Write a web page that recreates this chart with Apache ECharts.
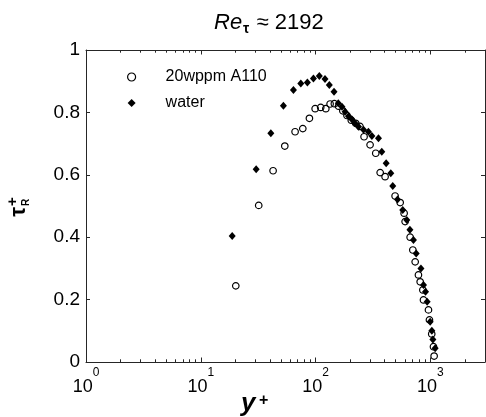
<!DOCTYPE html>
<html>
<head>
<meta charset="utf-8">
<script src="https://cdn.jsdelivr.net/npm/echarts@6/dist/echarts.min.js"></script>
<style>
  html, body { margin: 0; padding: 0; background: #fff; }
  #chart { width: 486px; height: 417px; }
</style>
</head>
<body>
<div id="chart"></div>
<script>
// 20wppm A110 (open circles)
var a110Yplus = [20.2, 32, 42.7, 54, 66.4, 77.5, 88.5, 99.3, 111, 123, 134, 146, 159, 173, 188,
  205, 224, 244, 265, 299, 335, 366, 404, 494, 547, 592, 604, 668, 705, 739, 789, 817, 862, 873,
  965, 984, 1030, 1067, 1081];
var a110Tau = [0.244, 0.502, 0.613, 0.692, 0.738, 0.748, 0.781, 0.812, 0.816, 0.812, 0.827, 0.828,
  0.820, 0.805, 0.790, 0.775, 0.765, 0.755, 0.722, 0.696, 0.669, 0.607, 0.594, 0.532, 0.511, 0.477,
  0.450, 0.400, 0.359, 0.321, 0.279, 0.257, 0.231, 0.199, 0.167, 0.135, 0.090, 0.049, 0.019];

// water (filled diamonds)
var waterYplus = [18.8, 30.4, 40.8, 52.5, 64.2, 74.5, 85, 95.9, 108, 121, 132, 145, 158, 170, 181,
  194, 207, 221, 237, 262, 289, 310, 354, 378, 413, 453, 471, 518, 576, 625, 665, 714, 754, 830,
  873, 910, 940, 998, 1032, 1054, 1103];
var waterTau = [0.404, 0.618, 0.733, 0.821, 0.872, 0.893, 0.896, 0.909, 0.917, 0.907, 0.888, 0.866,
  0.829, 0.818, 0.802, 0.788, 0.778, 0.765, 0.754, 0.744, 0.738, 0.724, 0.717, 0.674, 0.637, 0.605,
  0.564, 0.521, 0.487, 0.455, 0.424, 0.391, 0.348, 0.300, 0.247, 0.225, 0.193, 0.129, 0.100, 0.072,
  0.044];

// ticks
var xMajorTicks = [1, 10, 100, 1000];
var xTickExp = ['0', '1', '2', '3'];
var xMinorTicks = [2, 3, 4, 5, 6, 7, 8, 9, 20, 30, 40, 50, 60, 70, 80, 90,
  200, 300, 400, 500, 600, 700, 800, 900, 2000];
var yTicks = [0, 0.2, 0.4, 0.6, 0.8, 1];

var FONT = 'Liberation Sans, Arial, sans-serif';
var AXIS_COLOR = '#262626';

function pairs(xs, ys) {
  var out = [];
  for (var i = 0; i < xs.length; i++) out.push([xs[i], ys[i]]);
  return out;
}

// exponent text of the major tick nearest to v
function expLabel(v) {
  var best = 0;
  for (var i = 1; i < xMajorTicks.length; i++) {
    if (Math.abs(Math.log(xMajorTicks[i] / v)) < Math.abs(Math.log(xMajorTicks[best] / v))) best = i;
  }
  return xTickExp[best];
}

function logAxis(pos, ticks, len, withLine, withLabels) {
  return {
    type: 'log',
    logBase: 10,
    position: pos,
    min: 1,
    max: 3000,
    axisLine: { show: withLine, lineStyle: { color: AXIS_COLOR, width: 1 } },
    axisTick: { show: true, inside: true, length: len, customValues: ticks,
      lineStyle: { color: AXIS_COLOR, width: 1 } },
    axisLabel: withLabels ? {
      customValues: xMajorTicks,
      margin: 4,
      formatter: function (v) { return '{b|10}{e|' + expLabel(v) + '}'; },
      rich: {
        b: { fontFamily: FONT, fontSize: 18, color: '#000', padding: [12, 0, 0, 0] },
        e: { fontFamily: FONT, fontSize: 12, color: '#000', verticalAlign: 'top', padding: [1, 0, 0, 0] }
      }
    } : { show: false },
    splitLine: { show: false },
    minorTick: { show: false }
  };
}

function valAxis(pos, withLabels) {
  return {
    type: 'value',
    position: pos,
    min: 0,
    max: 1,
    interval: 0.2,
    axisLine: { show: true, lineStyle: { color: AXIS_COLOR, width: 1 } },
    axisTick: { show: true, inside: true, length: 4, customValues: yTicks,
      lineStyle: { color: AXIS_COLOR, width: 1 } },
    axisLabel: withLabels ? {
      margin: 6, fontFamily: FONT, fontSize: 19, color: '#000'
    } : { show: false },
    splitLine: { show: false }
  };
}

var chart = echarts.init(document.getElementById('chart'), null, { renderer: 'canvas' });

chart.setOption({
  backgroundColor: '#fff',
  animation: false,
  title: {
    text: '{a|Re}{b|τ}{c| ≈ 2192}',
    left: 214,
    top: 10,
    padding: 0,
    textStyle: {
      fontWeight: 'normal',
      rich: {
        a: { fontFamily: FONT, fontSize: 22, fontStyle: 'italic', fontWeight: 'normal', color: '#000' },
        b: { fontFamily: FONT, fontSize: 14, fontWeight: 'bold', color: '#000', padding: [12, 1, 0, 1] },
        c: { fontFamily: FONT, fontSize: 22, fontWeight: 'normal', color: '#000' }
      }
    }
  },
  legend: {
    orient: 'vertical',
    left: 127,
    top: 69,
    padding: 0,
    itemWidth: 8,
    itemHeight: 8,
    itemGap: 10,
    textStyle: { fontFamily: FONT, fontSize: 16, color: '#000', lineHeight: 16, padding: [0, 0, 0, 25] },
    data: [
      { name: '20wppm A110', icon: 'circle',
        itemStyle: { color: 'rgba(0,0,0,0)', borderColor: '#000', borderWidth: 1.2 } },
      { name: 'water', icon: 'diamond', itemStyle: { color: '#000', borderWidth: 0 } }
    ]
  },
  grid: { left: 86, right: 1, top: 50, bottom: 55, containLabel: false },
  xAxis: [
    logAxis('bottom', xMajorTicks, 4.5, true, true),
    logAxis('bottom', xMinorTicks, 2.7, false, false),
    logAxis('top', xMajorTicks, 4.5, true, false),
    logAxis('top', xMinorTicks, 2.7, false, false)
  ],
  yAxis: [valAxis('left', true), valAxis('right', false)],
  graphic: [
    {
      type: 'group', x: 18.5, y: 208, rotation: Math.PI / 2,
      children: [
        { type: 'text', style: { text: 'τ', x: 1, y: 0, align: 'right', verticalAlign: 'middle',
          font: 'bold 22px ' + FONT, fill: '#000' } },
        { type: 'text', style: { text: '+', x: 2, y: -6, align: 'left', verticalAlign: 'middle',
          font: 'bold 15px ' + FONT, fill: '#000' } },
        { type: 'text', style: { text: 'R', x: 2, y: 7.5, align: 'left', verticalAlign: 'middle',
          font: 'bold 10px ' + FONT, fill: '#000' } }
      ]
    },
    { type: 'text', x: 241, y: 404, style: { text: 'y', align: 'left', verticalAlign: 'middle',
      font: 'italic bold 26px ' + FONT, fill: '#000' } },
    { type: 'text', x: 259, y: 401, style: { text: '+', align: 'left', verticalAlign: 'middle',
      font: 'bold 16px ' + FONT, fill: '#000' } }
  ],
  series: [
    {
      name: '20wppm A110',
      type: 'scatter',
      xAxisIndex: 0,
      yAxisIndex: 0,
      symbol: 'circle',
      symbolSize: 6.5,
      itemStyle: { color: 'rgba(0,0,0,0)', borderColor: '#000', borderWidth: 1.2, opacity: 1 },
      data: pairs(a110Yplus, a110Tau)
    },
    {
      name: 'water',
      type: 'scatter',
      xAxisIndex: 0,
      yAxisIndex: 0,
      symbol: 'diamond',
      symbolSize: [7, 8],
      itemStyle: { color: '#000', opacity: 1 },
      data: pairs(waterYplus, waterTau)
    }
  ]
});

window.addEventListener('resize', function () { chart.resize(); });
</script>
</body>
</html>
